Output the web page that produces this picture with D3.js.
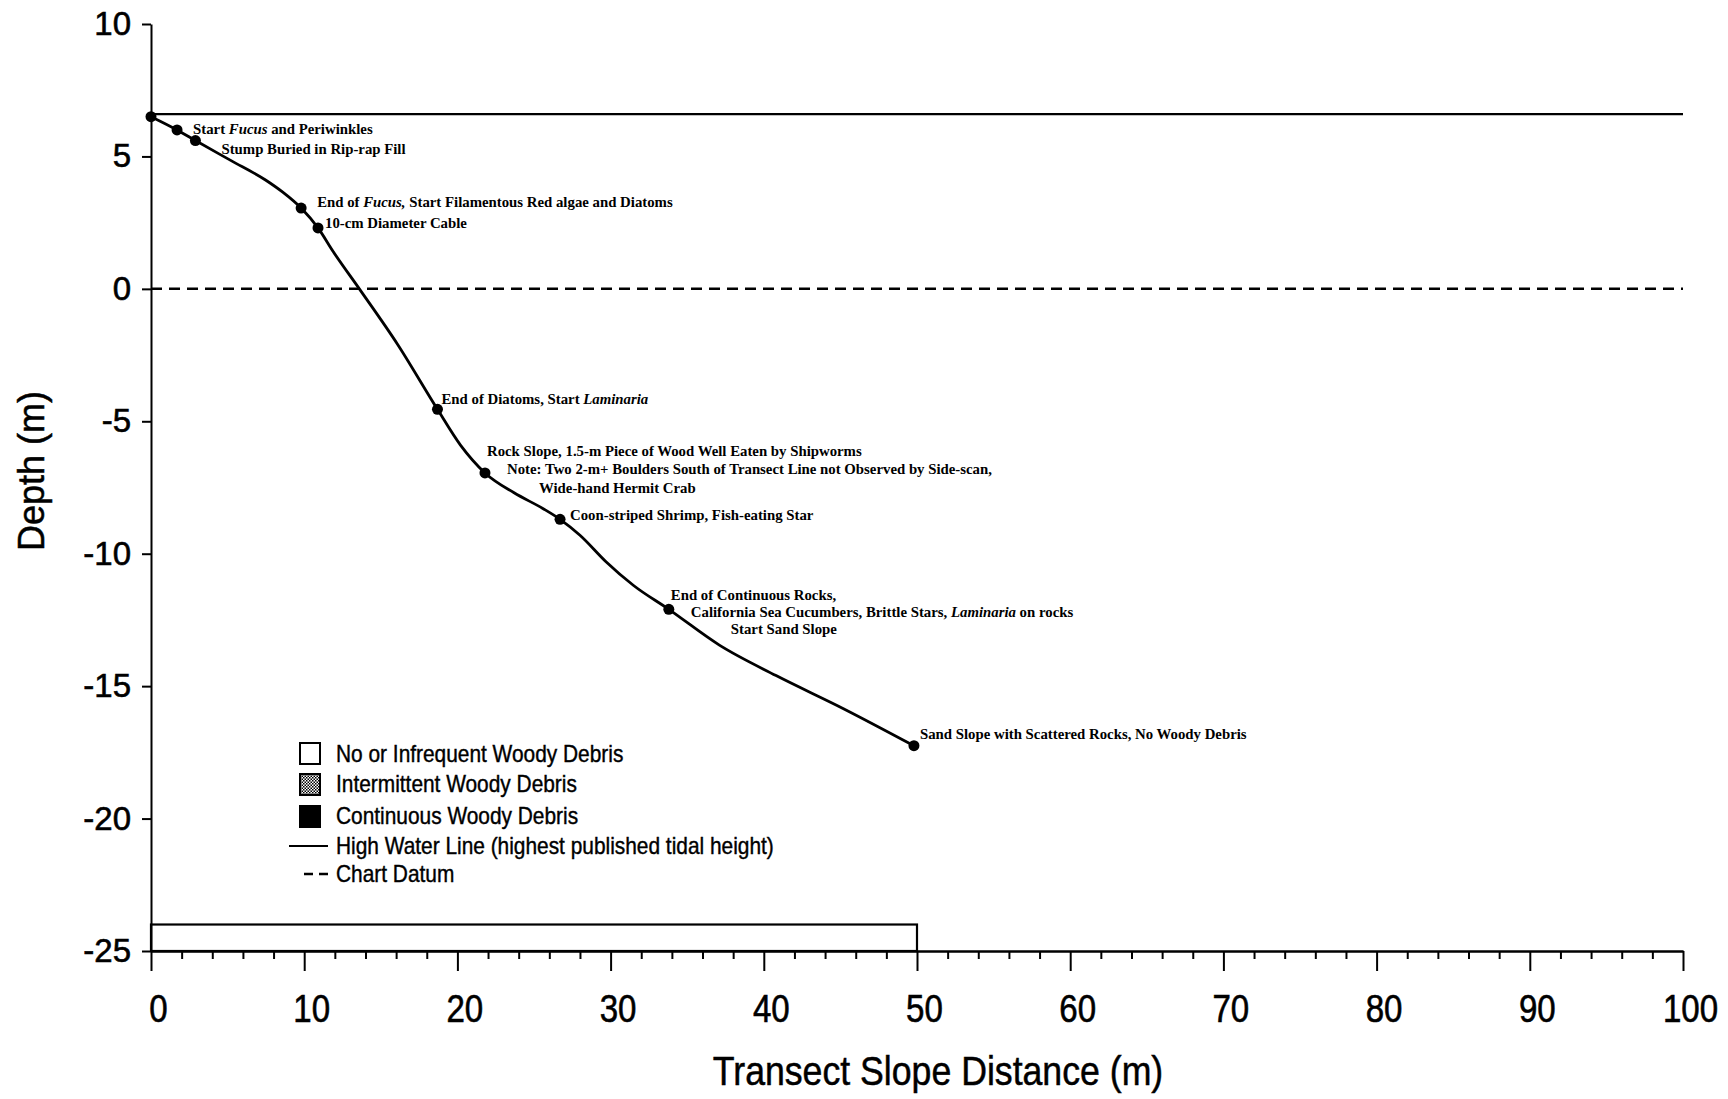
<!DOCTYPE html>
<html lang="en">

<head>
  <meta charset="utf-8">
  <title>Transect depth profile</title>
  <script src="https://d3js.org/d3.v7.min.js"></script>
  <style>
    body { margin: 0; background: #fff; }
    .axis path, .axis line { stroke: #000; stroke-width: 2; }
    .axis text { font-family: "Liberation Sans", Arial, sans-serif; fill: #000; stroke: #000; stroke-width: 0.6px; }
    .note { font-family: "Liberation Serif", "Times New Roman", serif; font-size: 14.8px; font-weight: bold; }
    .legend text { font-family: "Liberation Sans", Arial, sans-serif; font-size: 24px; stroke: #000; stroke-width: 0.4px; }
    .title { font-family: "Liberation Sans", Arial, sans-serif; stroke: #000; stroke-width: 0.5px; }
  </style>
</head>

<body>
  <div id="chart"></div>

  <script>
    "use strict"

    // depth profile (m)
    var profileX = [0, 1.7, 2.9, 5.2, 7.5, 8.6, 9.8, 10.9, 11.9, 13.6, 16.1, 18.7, 20.2, 21.8, 23.7, 25.6, 26.7, 28.0, 29.7, 31.5, 33.8, 37.1, 40.8, 45.2, 49.8];
    var profileY = [6.5, 6.0, 5.6, 4.85, 4.1, 3.65, 3.05, 2.3, 1.4, 0, -2.1, -4.55, -5.9, -6.95, -7.7, -8.3, -8.7, -9.3, -10.3, -11.2, -12.1, -13.45, -14.6, -15.85, -17.25];

    // observation points
    var pointX = [0, 1.7, 2.9, 9.8, 10.9, 18.7, 21.8, 26.7, 33.8, 49.8];
    var pointY = [6.5, 6.0, 5.6, 3.05, 2.3, -4.55, -6.95, -8.7, -12.1, -17.25];

    // annotations (*...* = italic), with the point they belong to
    var noteText = [
      "Start *Fucus* and Periwinkles",
      "Stump Buried in Rip-rap Fill",
      "End of *Fucus,* Start Filamentous Red algae and Diatoms",
      "10-cm Diameter Cable",
      "End of Diatoms, Start *Laminaria*",
      "Rock Slope, 1.5-m Piece of Wood Well Eaten by Shipworms",
      "Note: Two 2-m+ Boulders South of Transect Line not Observed by Side-scan,",
      "Wide-hand Hermit Crab",
      "Coon-striped Shrimp, Fish-eating Star",
      "End of Continuous Rocks,",
      "California Sea Cucumbers, Brittle Stars, *Laminaria* on rocks",
      "Start Sand Slope",
      "Sand Slope with Scattered Rocks, No Woody Debris"
    ];
    var notePoint = [1, 2, 3, 4, 5, 6, 6, 6, 7, 8, 8, 8, 9];

    var highWater = 6.6;
    var chartDatum = 0;

    // woody debris bar
    var debrisStart = [0];
    var debrisEnd = [50];
    var debrisClass = ["none"];

    var legendLabels = [
      "No or Infrequent Woody Debris",
      "Intermittent Woody Debris",
      "Continuous Woody Debris",
      "High Water Line (highest published tidal height)",
      "Chart Datum"
    ];

    var xTicks = [0, 10, 20, 30, 40, 50, 60, 70, 80, 90, 100];
    var yTicks = [10, 5, 0, -5, -10, -15, -20, -25];

    // layout
    var W = 1728, H = 1099;
    var noteOffset = [[16, 4], [26, 13], [16, -1], [7, 0], [4, -5], [2, -17], [22, 1], [54, 20], [10, 1], [2, -9], [22, 8], [62, 25], [6, -7]];

    var x = d3.scaleLinear().domain([0, 100]).range([151, 1683]);
    var y = d3.scaleLinear().domain([-25, 10]).range([951, 24]);

    var svg = d3.select("#chart").append("svg")
      .attr("width", W)
      .attr("height", H);

    var defs = svg.append("defs");
    var pat = defs.append("pattern")
      .attr("id", "stipple")
      .attr("width", 3).attr("height", 3)
      .attr("patternUnits", "userSpaceOnUse");
    pat.append("rect").attr("width", 3).attr("height", 3).attr("fill", "#fff");
    pat.append("rect").attr("width", 1.5).attr("height", 1.5).attr("fill", "#000");
    pat.append("rect").attr("x", 1.5).attr("y", 1.5).attr("width", 1.5).attr("height", 1.5).attr("fill", "#000");

    var fills = { none: "#fff", some: "url(#stipple)", full: "#000" };

    // reference lines
    svg.append("line")
      .attr("x1", x(0)).attr("x2", x(100))
      .attr("y1", y(highWater)).attr("y2", y(highWater))
      .attr("stroke", "#000").attr("stroke-width", 2.2);

    svg.append("line")
      .attr("x1", x(0)).attr("x2", x(100))
      .attr("y1", y(chartDatum)).attr("y2", y(chartDatum))
      .attr("stroke", "#000").attr("stroke-width", 2.5)
      .attr("stroke-dasharray", "11,7");

    // debris bar
    svg.selectAll(".debris")
      .data(debrisStart)
      .enter().append("rect")
        .attr("class", "debris")
        .attr("x", (d, i) => x(d))
        .attr("y", y(-24))
        .attr("width", (d, i) => x(debrisEnd[i]) - x(d))
        .attr("height", y(-25) - y(-24))
        .attr("fill", (d, i) => fills[debrisClass[i]])
        .attr("stroke", "#000")
        .attr("stroke-width", 2.2);

    // axes
    var yAxis = svg.append("g")
      .attr("class", "axis")
      .attr("transform", "translate(" + x(0) + ",0)")
      .call(d3.axisLeft(y).tickValues(yTicks).tickSize(9).tickSizeOuter(0).tickPadding(11).tickFormat(d => String(d)));
    yAxis.selectAll("text").style("font-size", "33px");

    svg.append("g")
      .attr("class", "axis")
      .attr("transform", "translate(0," + y(-25) + ")")
      .call(d3.axisBottom(x).tickValues(d3.range(0, 101, 2).filter(d => d % 10 != 0)).tickSize(8).tickSizeOuter(0).tickFormat(""));

    var xAxis = svg.append("g")
      .attr("class", "axis")
      .attr("transform", "translate(0," + y(-25) + ")")
      .call(d3.axisBottom(x).tickValues(xTicks).tickSize(20).tickSizeOuter(0).tickPadding(24));
    xAxis.selectAll("text")
      .style("font-size", "38px")
      .attr("dx", 8)
      .attr("transform", "scale(0.87,1)");

    svg.append("text")
      .attr("class", "title")
      .attr("transform", "translate(" + 938 + ",1085) scale(0.87,1)")
      .attr("text-anchor", "middle")
      .style("font-size", "41px")
      .text("Transect Slope Distance (m)");

    svg.append("text")
      .attr("class", "title")
      .attr("transform", "translate(44,471) rotate(-90)")
      .attr("text-anchor", "middle")
      .style("font-size", "36px")
      .text("Depth (m)");

    // profile
    var line = d3.line()
      .x((d, i) => x(profileX[i]))
      .y((d, i) => y(profileY[i]))
      .curve(d3.curveMonotoneX);

    svg.append("path")
      .datum(profileX)
      .attr("d", line)
      .attr("fill", "none")
      .attr("stroke", "#000")
      .attr("stroke-width", 2.8);

    svg.selectAll(".pt")
      .data(pointX)
      .enter().append("circle")
        .attr("class", "pt")
        .attr("cx", d => x(d))
        .attr("cy", (d, i) => y(pointY[i]))
        .attr("r", 5.5)
        .attr("fill", "#000");

    // annotations
    var notes = svg.selectAll(".note")
      .data(noteText)
      .enter().append("text")
        .attr("class", "note")
        .attr("x", (d, i) => x(pointX[notePoint[i]]) + noteOffset[i][0])
        .attr("y", (d, i) => y(pointY[notePoint[i]]) + noteOffset[i][1]);

    notes.each(function(d) {
      var t = d3.select(this);
      d.split("*").forEach(function(part, k) {
        if (part === "") return;
        t.append("tspan")
          .style("font-style", k % 2 ? "italic" : "normal")
          .text(part);
      });
    });

    // legend
    var legend = svg.append("g").attr("class", "legend");
    var boxY = [743, 774, 806];
    var boxFill = ["none", "some", "full"];

    legend.selectAll("rect")
      .data(boxY)
      .enter().append("rect")
        .attr("x", 300)
        .attr("y", d => d)
        .attr("width", 20)
        .attr("height", 21)
        .attr("fill", (d, i) => fills[boxFill[i]])
        .attr("stroke", "#000")
        .attr("stroke-width", 2);

    legend.append("line")
      .attr("x1", 289).attr("x2", 328)
      .attr("y1", 846).attr("y2", 846)
      .attr("stroke", "#000").attr("stroke-width", 2.2);

    legend.append("line")
      .attr("x1", 304).attr("x2", 328)
      .attr("y1", 874).attr("y2", 874)
      .attr("stroke", "#000").attr("stroke-width", 2.5)
      .attr("stroke-dasharray", "9,6");

    var textY = [762, 792, 824, 854, 882];
    legend.selectAll("text")
      .data(legendLabels)
      .enter().append("text")
        .attr("transform", (d, i) => "translate(336," + textY[i] + ") scale(0.87,1)")
        .text(d => d);
  </script>
</body>

</html>
